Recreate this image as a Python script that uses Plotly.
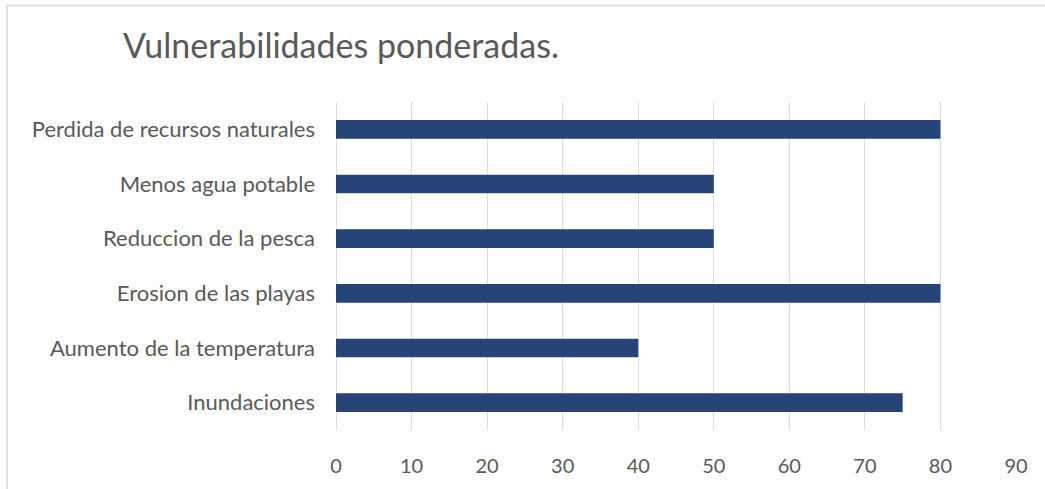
import plotly.graph_objects as go

categories = ["Inundaciones", "Aumento de la temperatura", "Erosion de las playas",
              "Reduccion de la pesca", "Menos agua potable", "Perdida de recursos naturales"]
values = [75, 40, 80, 50, 50, 80]
tick_vals = [0, 10, 20, 30, 40, 50, 60, 70, 80, 90]
title_text = "Vulnerabilidades ponderadas."

W, H = 1045, 489
L, R, T, B = 336, W - 1016, 102, H - 432
pw, ph = W - L - R, H - T - B

fig = go.Figure(go.Bar(
    y=categories, x=values, orientation="h",
    marker=dict(color="#264478", line=dict(width=0)),
    width=0.34,
))

font_family = "Lato, 'Open Sans', sans-serif"
fig.update_layout(
    width=W, height=H,
    margin=dict(l=L, r=R, t=T, b=B, pad=0),
    paper_bgcolor="white", plot_bgcolor="white",
    showlegend=False,
    font=dict(family=font_family, color="#595959", size=21),
    title=dict(text=title_text, x=123 / W, xanchor="left", y=1 - 46 / H, yanchor="middle",
               font=dict(size=34, color="#595959", family=font_family)),
    xaxis=dict(range=[0, 90], tickvals=tick_vals, showgrid=True, gridcolor="#dcdcdc",
               gridwidth=1.3, zeroline=True, zerolinecolor="#dcdcdc", zerolinewidth=1.3,
               showline=False, ticks="", tickfont=dict(size=20, color="#595959"),
               ticklabelstandoff=22, fixedrange=True),
    yaxis=dict(showgrid=False, zeroline=False, showline=False, ticks="",
               ticklabelstandoff=20, tickfont=dict(size=22, color="#595959"),
               categoryorder="array", categoryarray=categories, fixedrange=True),
    shapes=[dict(type="rect", xref="paper", yref="paper",
                 x0=(7 - L) / pw, x1=(W + 10 - L) / pw,
                 y0=-(H + 10 - T - ph) / ph, y1=1 + (T - 5) / ph,
                 line=dict(color="#d9d9d9", width=1.5), layer="below")],
)

fig.write_html("out.html", config={"displayModeBar": False})
with open("out.html", encoding="utf-8") as f:
    html = f.read()
html = html.replace("<head>", "<head><style>html,body{margin:0;padding:0;overflow:hidden;}</style>", 1)
with open("out.html", "w", encoding="utf-8") as f:
    f.write(html)
